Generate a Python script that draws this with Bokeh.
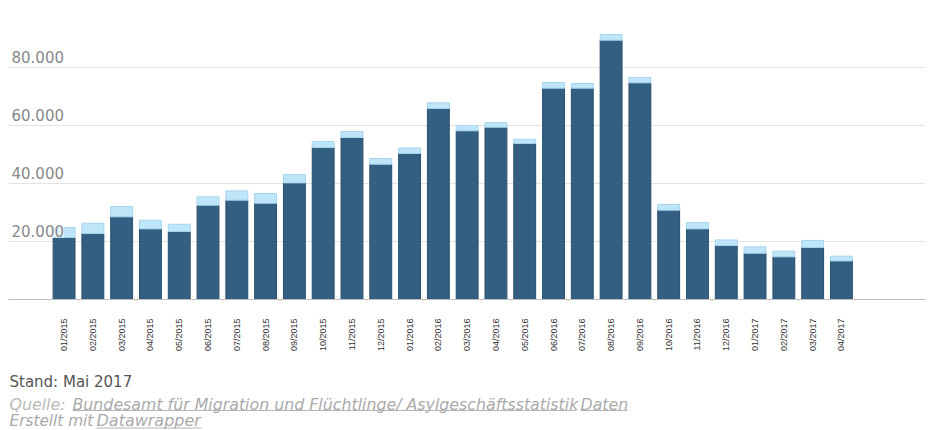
import math
from bokeh.plotting import figure
from bokeh.layouts import column
from bokeh.models import Range1d, FixedTicker, ColumnDataSource
from bokeh.core.properties import value
from bokeh.embed import file_html
from bokeh.resources import INLINE

months = ["01/2015", "02/2015", "03/2015", "04/2015", "05/2015", "06/2015", "07/2015",
          "08/2015", "09/2015", "10/2015", "11/2015", "12/2015", "01/2016", "02/2016",
          "03/2016", "04/2016", "05/2016", "06/2016", "07/2016", "08/2016", "09/2016",
          "10/2016", "11/2016", "12/2016", "01/2017", "02/2017", "03/2017", "04/2017"]
erst = [21400, 22750, 28500, 24350, 23450, 32500, 34250, 33200, 40200, 52400, 55850,
        46650, 50350, 65850, 58150, 59400, 53800, 72850, 72850, 89400, 74700, 30800,
        24350, 18600, 15950, 14700, 17950, 13300]
folge = [3400, 3550, 3550, 3000, 2500, 2900, 3200, 3350, 2900, 2100, 2050, 1950, 1900,
         1950, 1850, 1650, 1450, 1950, 1650, 2000, 1850, 1950, 2200, 1950, 2200, 1950,
         2400, 1650]
y_ticks = [20000, 40000, 60000, 80000]
y_labels = ["20.000", "40.000", "60.000", "80.000"]

stand_text = "Stand: Mai 2017"
quelle_label = "Quelle:"
quelle_link = "Bundesamt für Migration und Flüchtlinge/ Asylgeschäftsstatistik"
daten_link = "Daten"
erstellt_label = "Erstellt mit"
erstellt_link = "Datawrapper"

x = list(range(len(months)))
top_total = [a + b for a, b in zip(erst, folge)]
src = ColumnDataSource(dict(x=x, erst=erst, total=top_total))

# ---------------- chart ----------------
p = figure(width=928, height=354, output_backend="svg", toolbar_location=None,
           x_range=Range1d(-1.93, 29.92), y_range=Range1d(0, 103100),
           min_border_left=8, min_border_right=3, min_border_top=0, min_border_bottom=55)
p.outline_line_color = None
p.background_fill_color = "white"
p.border_fill_color = "white"

p.vbar(x="x", bottom=0, top="erst", width=0.76, source=src,
       fill_color="#335f82", line_color="#2a5070", line_width=1)
p.vbar(x="x", bottom="erst", top="total", width=0.76, source=src,
       fill_color="#bfe5f8", line_color="#a6d4ee", line_width=1)

p.yaxis.visible = False
p.ygrid.ticker = FixedTicker(ticks=y_ticks)
p.ygrid.grid_line_color = "#e3e3e3"
p.ygrid.grid_line_width = 1
p.xgrid.visible = False

xa = p.xaxis[0]
xa.ticker = FixedTicker(ticks=x)
xa.major_label_overrides = {i: m for i, m in enumerate(months)}
xa.major_label_orientation = math.pi / 2
xa.major_tick_line_color = None
xa.minor_tick_line_color = None
xa.major_tick_out = 0
xa.major_tick_in = 0
xa.axis_line_color = "#bdbdbd"
xa.major_label_standoff = 19
xa.major_label_text_font = "Liberation Sans"
xa.major_label_text_font_size = "9px"
xa.major_label_text_color = "#333333"

lab_src = ColumnDataSource(dict(x=[p.x_range.start] * len(y_ticks), y=y_ticks, t=y_labels))
p.text(x="x", y="y", text="t", source=lab_src, x_offset=3, y_offset=-4,
       text_baseline="bottom", text_align="left", text_font=value("DejaVu Sans"),
       text_font_size="15px", text_color="#888888",
       background_fill_color="white", background_fill_alpha=0.6)

# ---------------- footer ----------------
f = figure(width=928, height=76, output_backend="svg", toolbar_location=None,
           x_range=Range1d(8, 925), y_range=Range1d(76, 0),
           x_axis_location=None, y_axis_location=None,
           min_border_left=8, min_border_right=3, min_border_top=0, min_border_bottom=0)
f.outline_line_color = None
f.xgrid.visible = False
f.ygrid.visible = False
f.border_fill_color = "white"
f.background_fill_color = "white"

f.text(x=[9], y=[27.3], text=[stand_text], text_font=value("DejaVu Sans"),
       text_font_size="15px", text_color="#555555", text_baseline="alphabetic")

foot_font = value("DejaVu Sans")
f.text(x=[9], y=[49.5], text=[quelle_label], text_font=foot_font, text_font_size="15.8px",
       text_font_style="italic", text_color="#bbbbbb", text_baseline="alphabetic")
f.text(x=[72, 580], y=[49.5, 49.5], text=[quelle_link, daten_link], text_font=foot_font,
       text_font_size="15.8px", text_font_style="italic", text_color="#aaaaaa",
       text_baseline="alphabetic")
f.text(x=[9], y=[66], text=[erstellt_label], text_font=foot_font, text_font_size="15.3px",
       text_font_style="italic", text_color="#aaaaaa", text_baseline="alphabetic")
f.text(x=[96], y=[66], text=[erstellt_link], text_font=foot_font, text_font_size="16px",
       text_font_style="italic", text_color="#aaaaaa", text_baseline="alphabetic")
# link underlines
f.segment(x0=[72, 580, 96], y0=[56, 56, 73.5], x1=[576, 627, 201], y1=[56, 56, 73.5],
          line_color="#b5b5b5", line_width=1)

layout = column(p, f, spacing=0)
open("out.html", "w").write(file_html(layout, INLINE))
